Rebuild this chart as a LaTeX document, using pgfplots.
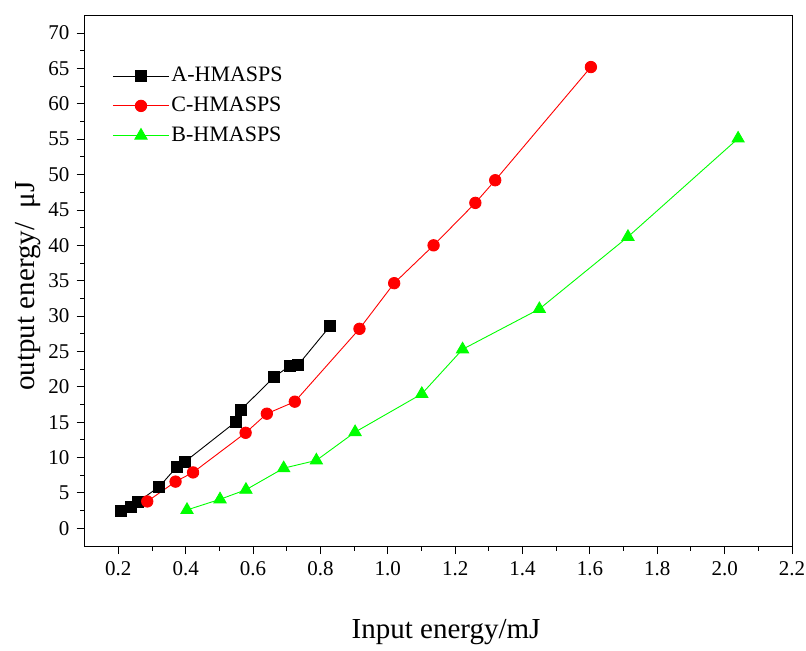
\documentclass[border=0pt]{standalone}
\usepackage{fontspec}
\setmainfont{Liberation Serif}
\usepackage{pgfplots}
\pgfplotsset{compat=1.18}

\pgfplotstableread{
x y
0.207 2.4
0.237 3.0
0.257 3.7
0.322 5.9
0.374 8.7
0.399 9.45
0.550 15.1
0.565 16.8
0.663 21.4
0.710 23.0
0.734 23.1
0.829 28.6
}\dataA

\pgfplotstableread{
x y
0.286 3.8
0.370 6.6
0.422 7.9
0.578 13.5
0.641 16.2
0.724 17.9
0.916 28.2
1.019 34.65
1.136 40.0
1.260 46.0
1.319 49.2
1.603 65.2
}\dataC

\pgfplotstableread{
x y
0.404 2.6
0.502 4.1
0.579 5.45
0.691 8.5
0.788 9.6
0.903 13.6
1.101 19.0
1.222 25.3
1.450 31.0
1.713 41.2
2.040 55.1
}\dataB

\begin{document}
\fontsize{21bp}{25bp}\selectfont
\begin{tikzpicture}
\useasboundingbox (-84.6bp,-105bp) rectangle (721.4bp,546bp);
\begin{axis}[
    at={(0,0)}, anchor=south west,
    scale only axis,
    width=707.4bp, height=530.6bp,
    xmin=0.1, xmax=2.2,
    ymin=-2.5, ymax=72.5,
    xtick={0.2,0.4,0.6,0.8,1.0,1.2,1.4,1.6,1.8,2.0,2.2},
    ytick={0,5,10,15,20,25,30,35,40,45,50,55,60,65,70},
    minor x tick num=1, minor y tick num=1,
    tick align=outside, tick pos=left,
    major tick length=8bp, minor tick length=4.5bp,
    every tick/.style={black, line width=0.9bp},
    axis line style={line width=1bp},
    xticklabel style={/pgf/number format/.cd, fixed, fixed zerofill, precision=1},
    /pgf/number format/assume math mode=true,
    tick label style={font=\fontsize{21bp}{25bp}\selectfont},
    xlabel={Input energy/mJ},
    ylabel={output energy/\hspace{0.5em}μJ},
    label style={font=\fontsize{29bp}{33bp}\selectfont},
    xlabel style={at={(axis description cs:0.511,0)}, anchor=center, yshift=-86bp},
    ylabel style={at={(axis description cs:-0.08,0.49)}, anchor=center},
    legend style={draw=none, fill=none, at={(rel axis cs:0.035,0.91)}, anchor=north west,
        font=\fontsize{22bp}{26bp}\selectfont, row sep=8bp},
    legend cell align=left,
    legend image code/.code={\draw[#1, mark repeat=2, mark phase=2] plot coordinates {(0bp,0bp) (28bp,0bp) (56bp,0bp)};},
]
\addplot[black, line width=0.9bp, mark=square*, mark size=5.5bp, mark options={solid}] table {\dataA};
\addplot[red, line width=0.9bp, mark=*, mark size=5.7bp, mark options={solid}] table {\dataC};
\addplot[green, line width=0.9bp, mark=triangle*, mark size=7bp, mark options={solid}] table {\dataB};
\legend{A-HMASPS, C-HMASPS, B-HMASPS}
\end{axis}
\end{tikzpicture}
\end{document}
